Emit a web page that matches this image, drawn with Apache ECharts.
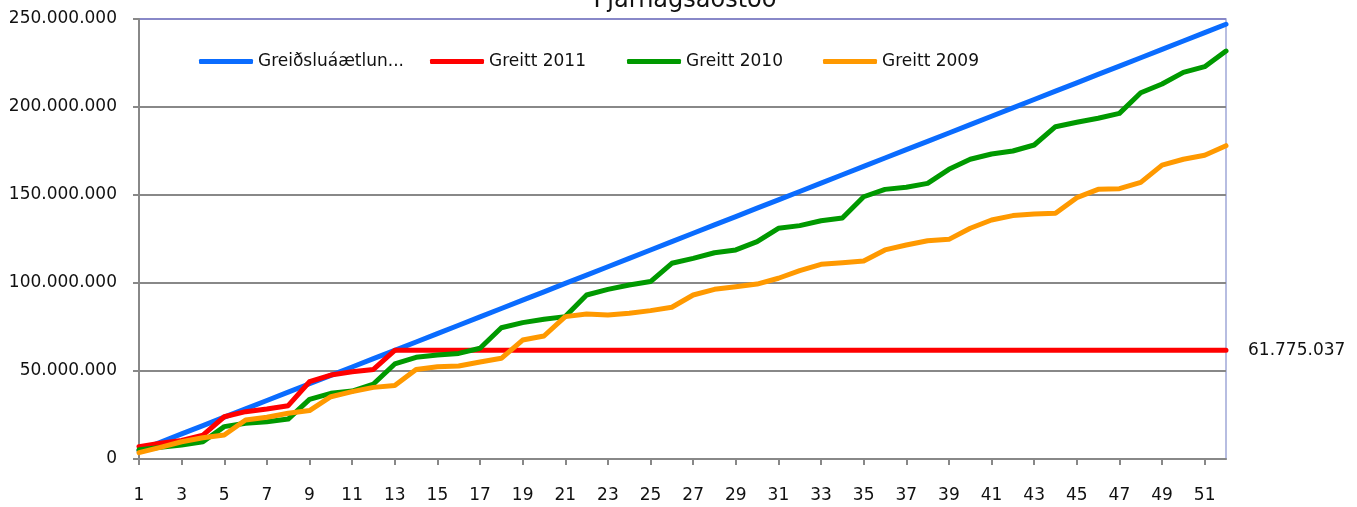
<!DOCTYPE html>
<html>
<head>
<meta charset="utf-8">
<script src="https://cdn.jsdelivr.net/npm/echarts@6/dist/echarts.min.js"></script>
<style>
html,body{margin:0;padding:0;background:#fff;}
#c{width:1357px;height:507px;}
</style>
</head>
<body>
<div id="c"></div>
<script>
const titleText = 'Fjárhagsaðstoð';
const categories = ['1','2','3','4','5','6','7','8','9','10','11','12','13','14','15','16','17','18','19','20','21','22','23','24','25','26','27','28','29','30','31','32','33','34','35','36','37','38','39','40','41','42','43','44','45','46','47','48','49','50','51','52'];
const seriesNames = ['Greiðsluáætlun...', 'Greitt 2011', 'Greitt 2010', 'Greitt 2009'];
const yTicks = [0, 50000000, 100000000, 150000000, 200000000, 250000000];

const budget = [4750000, 9500000, 14250000, 19000000, 23750000, 28500000, 33250000, 38000000, 42750000, 47500000,
  52250000, 57000000, 61750000, 66500000, 71250000, 76000000, 80750000, 85500000, 90250000, 95000000,
  99750000, 104500000, 109250000, 114000000, 118750000, 123500000, 128250000, 133000000, 137750000, 142500000,
  147250000, 152000000, 156750000, 161500000, 166250000, 171000000, 175750000, 180500000, 185250000, 190000000,
  194750000, 199500000, 204250000, 209000000, 213750000, 218500000, 223250000, 228000000, 232750000, 237500000,
  242250000, 247000000];
const paid2011 = [7000000, 8900000, 10500000, 13600000, 24000000, 26900000, 28400000, 30300000, 43900000, 47700000,
  49600000, 50900000, 61775037, 61775037, 61775037, 61775037, 61775037, 61775037, 61775037, 61775037,
  61775037, 61775037, 61775037, 61775037, 61775037, 61775037, 61775037, 61775037, 61775037, 61775037,
  61775037, 61775037, 61775037, 61775037, 61775037, 61775037, 61775037, 61775037, 61775037, 61775037,
  61775037, 61775037, 61775037, 61775037, 61775037, 61775037, 61775037, 61775037, 61775037, 61775037,
  61775037, 61775037];
const paid2010 = [5200000, 6600000, 8000000, 9800000, 18400000, 20300000, 21200000, 22700000, 33900000, 37300000,
  38600000, 42600000, 54000000, 57800000, 59100000, 60000000, 62900000, 74600000, 77500000, 79400000,
  80900000, 93200000, 96400000, 98900000, 100800000, 111200000, 114000000, 117200000, 118800000, 123500000,
  131100000, 132600000, 135400000, 136900000, 149000000, 153200000, 154400000, 156600000, 164600000, 170300000,
  173300000, 175000000, 178400000, 188800000, 191300000, 193600000, 196400000, 208100000, 213100000, 219700000,
  222900000, 231800000];
const paid2009 = [3600000, 6600000, 9800000, 12100000, 13600000, 22200000, 23700000, 26000000, 27500000, 35400000,
  38300000, 40700000, 41700000, 50900000, 52400000, 52800000, 55100000, 57200000, 67600000, 69900000,
  80900000, 82400000, 81800000, 82800000, 84300000, 86200000, 93200000, 96400000, 97900000, 99400000,
  102700000, 107000000, 110600000, 111500000, 112500000, 118800000, 121600000, 124000000, 124800000, 131100000,
  135800000, 138300000, 139200000, 139600000, 148500000, 153200000, 153600000, 157200000, 167000000, 170300000,
  172600000, 178000000];

const FONT = 'DejaVu Sans';
const fmt = v => String(Math.round(v)).replace(/\B(?=(\d{3})+(?!\d))/g, '.');

const chart = echarts.init(document.getElementById('c'), null, {renderer: 'canvas'});
const colors = ['#0a6cff', '#ff0000', '#009900', '#ff9900'];
const dataSets = [budget, paid2011, paid2010, paid2009];
const legendLefts = [199, 430, 627, 823];

chart.setOption({
  animation: false,
  backgroundColor: '#ffffff',
  textStyle: {fontFamily: FONT},
  title: {
    text: titleText,
    left: 680, textAlign: 'center',
    top: -16,
    textStyle: {fontFamily: FONT, fontSize: 24, fontWeight: 'normal', color: '#111'}
  },
  legend: seriesNames.map((name, i) => ({
    data: [name],
    left: legendLefts[i], top: 53,
    padding: 0,
    itemGap: 0,
    itemWidth: 54, itemHeight: 5,
    icon: 'roundRect',
    textStyle: {fontFamily: FONT, fontSize: 17, color: '#111'}
  })),
  grid: {
    left: 139, right: 131, top: 19, bottom: 48,
    show: true, borderColor: '#a0a8d8', borderWidth: 1.5, backgroundColor: 'transparent'
  },
  xAxis: {
    type: 'category',
    data: categories,
    boundaryGap: false,
    axisLine: {show: true, lineStyle: {color: '#888', width: 2}},
    axisTick: {show: true, interval: 1, length: 6, lineStyle: {color: '#888', width: 2}},
    axisLabel: {interval: 1, margin: 28, fontSize: 17, color: '#111', fontFamily: FONT},
    splitLine: {show: false}
  },
  yAxis: {
    type: 'value',
    min: yTicks[0], max: yTicks[yTicks.length - 1], interval: yTicks[1] - yTicks[0],
    axisLine: {show: true, lineStyle: {color: '#888', width: 2}},
    axisTick: {show: true, length: 6, lineStyle: {color: '#888', width: 2}},
    axisLabel: {margin: 22, fontSize: 17, color: '#111', fontFamily: FONT, formatter: fmt},
    splitLine: {show: true, lineStyle: {color: ['#888', '#888', '#888', '#888', '#888', '#8888c8'], width: 2}}
  },
  series: seriesNames.map((name, i) => ({
    name: name,
    type: 'line',
    data: dataSets[i],
    symbol: 'none',
    showSymbol: false,
    color: colors[i],
    lineStyle: {color: colors[i], width: 5, cap: 'round', join: 'round'},
    z: 2 + i,
    endLabel: i === 1 ? {
      show: true, distance: 22, fontSize: 17, color: '#111', fontFamily: FONT,
      formatter: p => fmt(p.value)
    } : {show: false}
  }))
});
</script>
</body>
</html>
